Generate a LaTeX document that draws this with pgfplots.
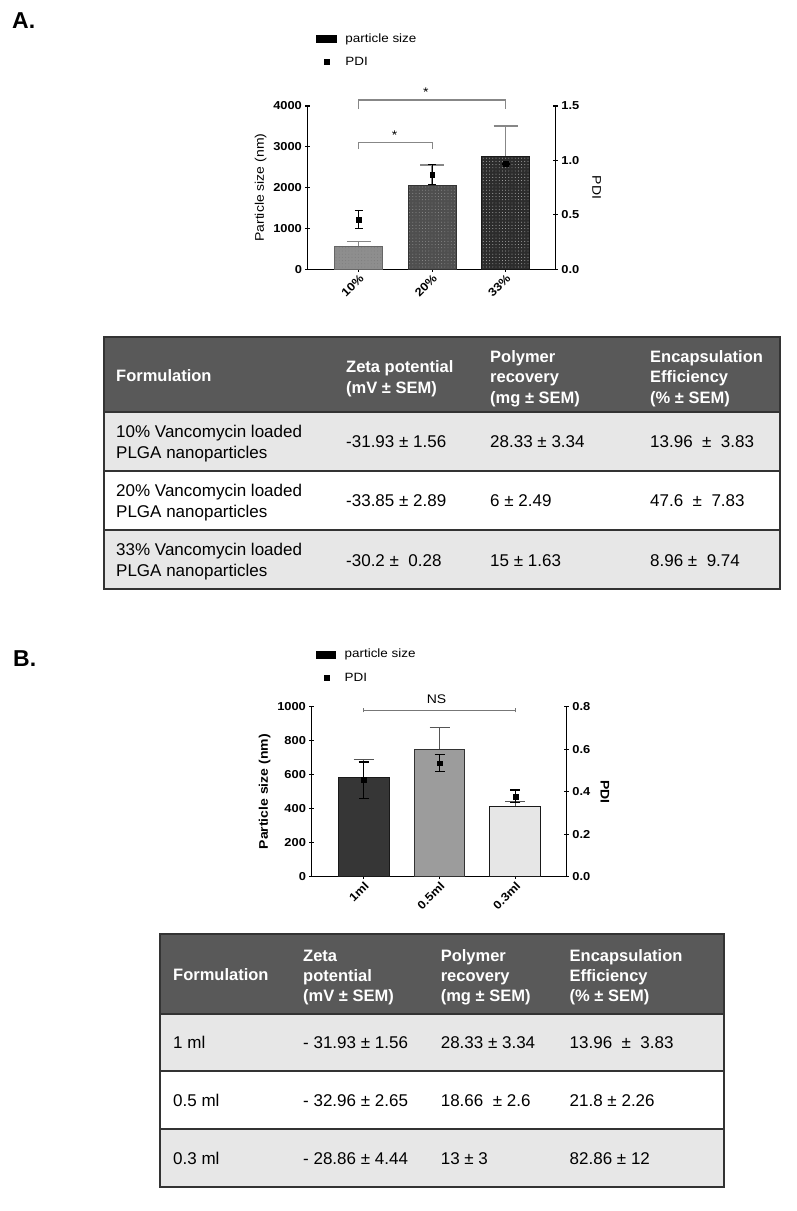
\documentclass[border=0pt]{standalone}
\usepackage{fontspec}
\setmainfont{Liberation Sans}
\newfontfamily\chartfont[FakeStretch=1.12]{Liberation Sans}
\usepackage{pgfplots}
\pgfplotsset{compat=1.18}
\usetikzlibrary{patterns.meta}

\definecolor{hdr}{HTML}{595959}
\definecolor{rowg}{HTML}{E7E7E7}
\definecolor{tline}{HTML}{333333}
\definecolor{aone}{HTML}{8E8E8E}
\definecolor{atwo}{HTML}{4F4F4F}
\definecolor{athree}{HTML}{2C2C2C}
\definecolor{bone}{HTML}{363636}
\definecolor{btwo}{HTML}{9C9C9C}
\definecolor{bthree}{HTML}{E6E6E6}
\definecolor{errg}{HTML}{878787}
\definecolor{errb}{HTML}{555555}

\newcommand{\tickf}{\chartfont\bfseries\fontsize{11.5}{13}\selectfont}
\newcommand{\labf}{\chartfont\fontsize{12.5}{14}\selectfont}
\newcommand{\labfb}{\chartfont\bfseries\fontsize{12.5}{14}\selectfont}
\newcommand{\legf}{\chartfont\fontsize{12}{14}\selectfont}
\newcommand{\thf}{\bfseries\fontsize{16.5}{19}\selectfont}
\newcommand{\tbf}{\fontsize{17}{20}\selectfont}
\newcommand{\tx}[4][]{\node[anchor=base west, inner sep=0pt, font=\tbf, #1] at (#2pt,-#3pt) {#4};}
\newcommand{\thd}[3]{\node[anchor=base west, inner sep=0pt, font=\thf, text=white] at (#1pt,-#2pt) {#3};}

\pgfplotsset{
  chartbase/.style={
    scale only axis, clip=false,
    tick style={line width=1.2pt, black},
    tick align=outside, major tick length=4.5pt,
    /pgf/number format/assume math mode=true,
    tick label style={font=\tickf},
    scaled y ticks=false,
  },
  nolinearrows/.style={
    axis line style={-, line width=1.3pt, black},
    every inner x axis line/.append style={-},
    every outer x axis line/.append style={-},
    every inner y axis line/.append style={-},
    every outer y axis line/.append style={-},
  },
  mylegend/.style={
    legend cell align=left,
    legend style={at={(axis description cs:#1)}, anchor=north west,
      draw=none, fill=none, font=\legf, row sep=9.5pt, inner sep=0pt,
      /tikz/every odd column/.append style={column sep=7pt}},
  },
}

\begin{document}
\begin{tikzpicture}
\path[use as bounding box] (0pt,0pt) rectangle (797pt,-1211pt);

\node[anchor=base west, inner sep=0pt, font=\bfseries\fontsize{23}{26}\selectfont] at (12pt,-28pt) {A.};
\node[anchor=base west, inner sep=0pt, font=\bfseries\fontsize{23}{26}\selectfont] at (13pt,-666pt) {B.};

% ================= Chart A: particle size =================
\begin{axis}[chartbase,
  at={(307.7pt,-269.3pt)}, anchor=south west,
  width=248pt, height=163.3pt,
  xmin=-0.696, xmax=2.684, ymin=0, ymax=4000,
  axis x line=bottom, axis y line=left, nolinearrows,
  xtick={0,1,2}, xticklabels={10\%,20\%,33\%},
  x tick label style={rotate=45, anchor=north east, inner sep=1.5pt},
  ytick={0,1000,2000,3000,4000},
  yticklabel style={/pgf/number format/.cd, fixed, 1000 sep={}},
  ylabel={Particle size (nm)}, ylabel style={font=\labf},
  mylegend={0.033,1.458},
]
\addlegendimage{legend image code/.code={\fill[black] (-1.5pt,-3.5pt) rectangle (18.5pt,3.5pt);}}
\addlegendentry{particle size}
\addlegendimage{only marks, mark=square*, mark size=2.4pt, black}
\addlegendentry{PDI}

\addplot[ybar, bar shift=0pt, bar width=0.654, fill=aone, draw=black!60, line width=0.8pt, forget plot,
  postaction={pattern={Dots[radius=0.45pt, distance=3.2pt]}, pattern color=black!52},
  error bars/.cd, y dir=plus, y explicit,
  error bar style={errg, line width=1.3pt},
  error mark options={rotate=90, errg, line width=1.3pt, mark size=12pt}]
  coordinates {(0,571) +- (0,105)};
\addplot[ybar, bar shift=0pt, bar width=0.654, fill=atwo, draw=black!80, line width=0.8pt, forget plot,
  postaction={pattern={Dots[radius=0.45pt, distance=3.2pt]}, pattern color=black!40},
  error bars/.cd, y dir=plus, y explicit,
  error bar style={errg, line width=1.3pt},
  error mark options={rotate=90, errg, line width=1.3pt, mark size=12pt}]
  coordinates {(1,2065) +- (0,490)};
\addplot[ybar, bar shift=0pt, bar width=0.654, fill=athree, draw=black!90, line width=0.8pt, forget plot,
  postaction={pattern={Dots[radius=0.45pt, distance=3.2pt]}, pattern color=black!22},
  error bars/.cd, y dir=plus, y explicit,
  error bar style={errg, line width=1.3pt},
  error mark options={rotate=90, errg, line width=1.3pt, mark size=12pt}]
  coordinates {(2,2775) +- (0,735)};

\draw[errg, line width=1.1pt] (axis cs:0,3926) |- (axis cs:2,4147) -- (axis cs:2,3926);
\draw[errg, line width=1.1pt] (axis cs:0,2945) |- (axis cs:1,3117) -- (axis cs:1,2945);
\node[font=\labf] at (axis cs:0.915,4330) {*};
\node[font=\labf] at (axis cs:0.49,3290) {*};
\end{axis}

% ================= Chart A: PDI =================
\begin{axis}[chartbase,
  at={(307.7pt,-269.3pt)}, anchor=south west,
  width=248pt, height=163.3pt,
  xmin=-0.696, xmax=2.684, ymin=0, ymax=1.5,
  axis x line=none, axis y line=right, nolinearrows,
  ytick={0,0.5,1,1.5},
  yticklabel style={/pgf/number format/.cd, fixed, fixed zerofill, precision=1},
  ylabel={PDI},
  ylabel style={font=\labf, at={(axis description cs:1.165,0.5)}, anchor=center, rotate=180},
]
\addplot[only marks, mark=square*, mark size=2.4pt, black,
  error bars/.cd, y dir=both, y explicit,
  error bar style={black, line width=1.1pt},
  error mark options={rotate=90, black, line width=1.1pt, mark size=4pt}]
  coordinates {(0,0.459) +- (0,0.085) (1,0.872) +- (0,0.09) (2,0.967) +- (0,0)};
\end{axis}

% ================= Chart B: particle size =================
\begin{axis}[chartbase,
  at={(311.7pt,-876.7pt)}, anchor=south west,
  width=255pt, height=170pt,
  xmin=-0.686, xmax=2.678, ymin=0, ymax=1000,
  axis x line=bottom, axis y line=left, nolinearrows,
  xtick={0,1,2}, xticklabels={1ml,0.5ml,0.3ml},
  x tick label style={rotate=45, anchor=north east, inner sep=1.5pt},
  ytick={0,200,400,600,800,1000},
  yticklabel style={/pgf/number format/.cd, fixed, 1000 sep={}},
  ylabel={Particle size (nm)}, ylabel style={font=\labfb},
  mylegend={0.017,1.351},
]
\addlegendimage{legend image code/.code={\fill[black] (-1.5pt,-3.5pt) rectangle (17.5pt,3.5pt);}}
\addlegendentry{particle size}
\addlegendimage{only marks, mark=square*, mark size=2.4pt, black}
\addlegendentry{PDI}

\addplot[ybar, bar shift=0pt, bar width=0.67, fill=bone, draw=black!90, line width=0.9pt, forget plot,
  error bars/.cd, y dir=plus, y explicit,
  error bar style={errb, line width=1.2pt},
  error mark options={rotate=90, errb, line width=1.2pt, mark size=10pt}]
  coordinates {(0,585) +- (0,105)};
\addplot[ybar, bar shift=0pt, bar width=0.67, fill=btwo, draw=black!80, line width=0.9pt, forget plot,
  error bars/.cd, y dir=plus, y explicit,
  error bar style={errb, line width=1.2pt},
  error mark options={rotate=90, errb, line width=1.2pt, mark size=10pt}]
  coordinates {(1,750) +- (0,130)};
\addplot[ybar, bar shift=0pt, bar width=0.67, fill=bthree, draw=black!90, line width=0.9pt, forget plot,
  error bars/.cd, y dir=plus, y explicit,
  error bar style={errb, line width=1.2pt},
  error mark options={rotate=90, errb, line width=1.2pt, mark size=10pt}]
  coordinates {(2,416) +- (0,25)};

\draw[errb!80, line width=1.1pt] (axis cs:0,980) -- (axis cs:2,980);
\draw[errb!80, line width=1.1pt] (axis cs:0,967) -- (axis cs:0,993);
\draw[errb!80, line width=1.1pt] (axis cs:2,967) -- (axis cs:2,993);
\node[font=\labf] at (axis cs:0.96,1045) {NS};
\end{axis}

% ================= Chart B: PDI =================
\begin{axis}[chartbase,
  at={(311.7pt,-876.7pt)}, anchor=south west,
  width=255pt, height=170pt,
  xmin=-0.686, xmax=2.678, ymin=0, ymax=0.8,
  axis x line=none, axis y line=right, nolinearrows,
  ytick={0,0.2,0.4,0.6,0.8},
  yticklabel style={/pgf/number format/.cd, fixed, fixed zerofill, precision=1},
  ylabel={PDI},
  ylabel style={font=\labfb, at={(axis description cs:1.15,0.5)}, anchor=center, rotate=180},
]
\addplot[only marks, mark=square*, mark size=2.4pt, black,
  error bars/.cd, y dir=both, y explicit,
  error bar style={black, line width=1.1pt},
  error mark options={rotate=90, black, line width=1.1pt, mark size=5pt}]
  coordinates {(0,0.455) +- (0,0.085) (1,0.534) +- (0,0.04) (2,0.378) +- (0,0.03)};
\end{axis}

% ================= Table A =================
\fill[hdr] (104pt,-337pt) rectangle (780pt,-412pt);
\fill[rowg] (104pt,-412pt) rectangle (780pt,-471pt);
\fill[white] (104pt,-471pt) rectangle (780pt,-530pt);
\fill[rowg] (104pt,-530pt) rectangle (780pt,-589pt);
\draw[tline, line width=1.6pt] (104pt,-412pt) -- (780pt,-412pt);
\draw[tline, line width=1.6pt] (104pt,-471pt) -- (780pt,-471pt);
\draw[tline, line width=1.6pt] (104pt,-530pt) -- (780pt,-530pt);
\draw[tline, line width=1.8pt] (104pt,-337pt) rectangle (780pt,-589pt);

\thd{116}{381}{Formulation}
\thd{346}{372}{Zeta potential}
\thd{346}{393}{(mV ± SEM)}
\thd{490}{362}{Polymer}
\thd{490}{382.5}{recovery}
\thd{490}{403}{(mg ± SEM)}
\thd{650}{362}{Encapsulation}
\thd{650}{382.5}{Efficiency}
\thd{650}{403}{(\% ± SEM)}

\tx{116}{437.7}{10\% Vancomycin loaded}
\tx{116}{458.3}{PLGA nanoparticles}
\tx{346}{447.5}{-31.93 ± 1.56}
\tx{490}{447.5}{28.33 ± 3.34}
\tx{650}{447.5}{13.96\ \ ±\ \ 3.83}

\tx{116}{496.5}{20\% Vancomycin loaded}
\tx{116}{517}{PLGA nanoparticles}
\tx{346}{506.5}{-33.85 ± 2.89}
\tx{490}{506.5}{6 ± 2.49}
\tx{650}{506.5}{47.6\ \ ±\ \ 7.83}

\tx{116}{555.5}{33\% Vancomycin loaded}
\tx{116}{576.5}{PLGA nanoparticles}
\tx{346}{566}{-30.2 ±\ \ 0.28}
\tx{490}{566}{15 ± 1.63}
\tx{650}{566}{8.96 ±\ \ 9.74}

% ================= Table B =================
\fill[hdr] (160pt,-934pt) rectangle (724pt,-1014pt);
\fill[rowg] (160pt,-1014pt) rectangle (724pt,-1071pt);
\fill[white] (160pt,-1071pt) rectangle (724pt,-1129pt);
\fill[rowg] (160pt,-1129pt) rectangle (724pt,-1187pt);
\draw[tline, line width=1.6pt] (160pt,-1014pt) -- (724pt,-1014pt);
\draw[tline, line width=1.6pt] (160pt,-1071pt) -- (724pt,-1071pt);
\draw[tline, line width=1.6pt] (160pt,-1129pt) -- (724pt,-1129pt);
\draw[tline, line width=1.8pt] (160pt,-934pt) rectangle (724pt,-1187pt);

\thd{173}{980}{Formulation}
\thd{303}{961}{Zeta}
\thd{303}{981}{potential}
\thd{303}{1001}{(mV ± SEM)}
\thd{440.6}{961}{Polymer}
\thd{440.6}{981}{recovery}
\thd{440.6}{1001}{(mg ± SEM)}
\thd{569.5}{961}{Encapsulation}
\thd{569.5}{981}{Efficiency}
\thd{569.5}{1001}{(\% ± SEM)}

\tx{173}{1048.5}{1 ml}
\tx{303}{1048.5}{- 31.93 ± 1.56}
\tx{440.6}{1048.5}{28.33 ± 3.34}
\tx{569.5}{1048.5}{13.96\ \ ±\ \ 3.83}

\tx{173}{1106}{0.5 ml}
\tx{303}{1106}{- 32.96 ± 2.65}
\tx{440.6}{1106}{18.66\ \ ± 2.6}
\tx{569.5}{1106}{21.8 ± 2.26}

\tx{173}{1164}{0.3 ml}
\tx{303}{1164}{- 28.86 ± 4.44}
\tx{440.6}{1164}{13 ± 3}
\tx{569.5}{1164}{82.86 ± 12}
\end{tikzpicture}
\end{document}
